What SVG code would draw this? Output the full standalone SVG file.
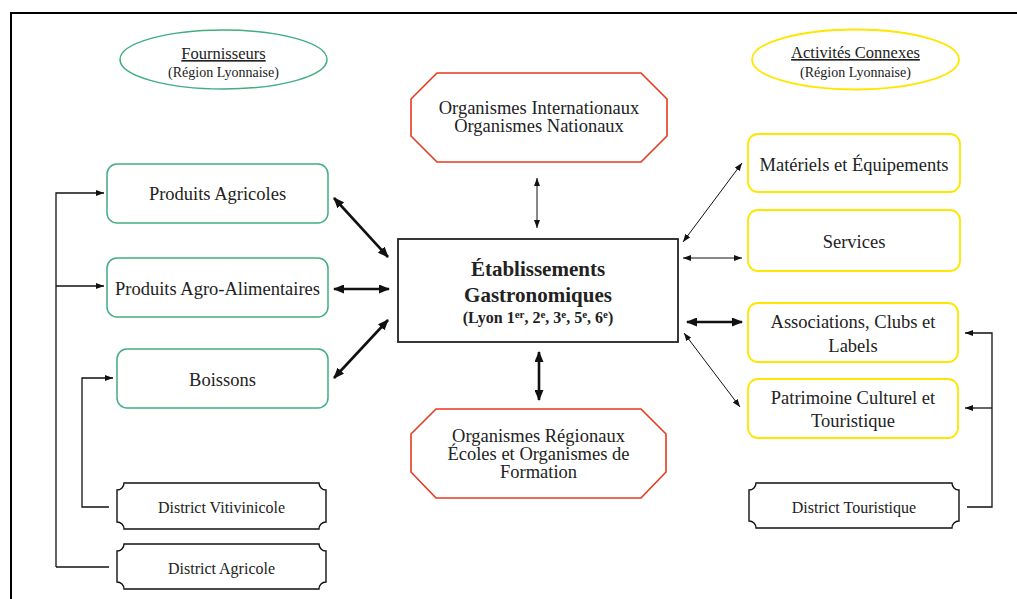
<svg xmlns="http://www.w3.org/2000/svg" width="1017" height="599" viewBox="0 0 1017 599">
<style>
text{font-family:"Liberation Serif","Times New Roman",serif;fill:#222;text-anchor:middle}
.lbl{font-size:18.5px}
.sm{font-size:16px}
.green{fill:#fff;stroke:#41ad80;stroke-width:1.5}
.yellow{fill:#fff;stroke:#ffe600;stroke-width:1.8}
.red{fill:#fff;stroke:#e8381f;stroke-width:1.6}
.plaque{fill:#fff;stroke:#111;stroke-width:1.4}
.thin{stroke:#111;stroke-width:1;fill:none}
.thick{stroke:#111;stroke-width:2.6;fill:none}
.br{stroke:#111;stroke-width:1.3;fill:none}
</style>
<defs>
<marker id="ah" viewBox="0 0 8 6" refX="8" refY="3" markerWidth="8" markerHeight="6" markerUnits="userSpaceOnUse" orient="auto-start-reverse"><path d="M0,0 L8,3 L0,6 z" fill="#111"/></marker>
<marker id="ahb" viewBox="0 0 11 9" refX="10" refY="4.5" markerWidth="11" markerHeight="9" markerUnits="userSpaceOnUse" orient="auto-start-reverse"><path d="M0,0 L11,4.5 L0,9 z" fill="#111"/></marker>
</defs>
<rect width="1017" height="599" fill="#fff"/>
<path d="M11,599 V13 H1017" fill="none" stroke="#000" stroke-width="2"/>

<g id="fournisseurs">
<ellipse cx="223.5" cy="59.5" rx="103.5" ry="29.5" class="green"/>
<text x="223.5" y="59" style="font-size:16.5px" text-decoration="underline">Fournisseurs</text>
<text x="223.5" y="77" style="font-size:14px">(Région Lyonnaise)</text>
</g>
<g id="activites">
<ellipse cx="855.5" cy="59.5" rx="103.5" ry="30" class="yellow"/>
<text x="855.5" y="58" style="font-size:16.5px" text-decoration="underline">Activités Connexes</text>
<text x="855.5" y="77" style="font-size:14px">(Région Lyonnaise)</text>
</g>

<g id="org-inter">
<polygon points="437,73 641,73 667,99 667,136 641,162 437,162 411,136 411,99" class="red"/>
<text x="539" y="114" class="lbl">Organismes Internationaux</text>
<text x="539" y="132" class="lbl">Organismes Nationaux</text>
</g>
<g id="org-reg">
<polygon points="436,409 641,409 666,434 666,472 641,498 436,498 411,472 411,434" class="red"/>
<text x="538.5" y="442" class="lbl">Organismes Régionaux</text>
<text x="538.5" y="460" class="lbl">Écoles et Organismes de</text>
<text x="538.5" y="478" class="lbl">Formation</text>
</g>

<g id="etablissements">
<rect x="398" y="239" width="280" height="103" fill="#fff" stroke="#222" stroke-width="1.8"/>
<text x="538" y="276" style="font-size:21px;font-weight:bold">Établissements</text>
<text x="538" y="302" style="font-size:21px;font-weight:bold">Gastronomiques</text>
<text x="538" y="323" style="font-size:16px;font-weight:bold">(Lyon 1<tspan dy="-5" style="font-size:11px">er</tspan><tspan dy="5">, 2</tspan><tspan dy="-5" style="font-size:11px">e</tspan><tspan dy="5">, 3</tspan><tspan dy="-5" style="font-size:11px">e</tspan><tspan dy="5">, 5</tspan><tspan dy="-5" style="font-size:11px">e</tspan><tspan dy="5">, 6</tspan><tspan dy="-5" style="font-size:11px">e</tspan><tspan dy="5">)</tspan></text>
</g>

<g id="produits-agricoles">
<rect x="107" y="164" width="221" height="59" rx="10" class="green"/>
<text x="217.5" y="200" class="lbl">Produits Agricoles</text>
</g>
<g id="produits-agro">
<rect x="107" y="258" width="221" height="59" rx="10" class="green"/>
<text x="217.5" y="295" class="lbl">Produits Agro-Alimentaires</text>
</g>
<g id="boissons">
<rect x="117" y="349" width="211" height="59" rx="10" class="green"/>
<text x="222.5" y="386" class="lbl">Boissons</text>
</g>
<g id="district-viti">
<path d="M124,483 H319 A7,7 0 0 0 326,490 V522 A7,7 0 0 0 319,529 H124 A7,7 0 0 0 117,522 V490 A7,7 0 0 0 124,483 Z" class="plaque"/>
<text x="221.5" y="513" class="sm">District Vitivinicole</text>
</g>
<g id="district-agri">
<path d="M124,544 H319 A7,7 0 0 0 326,551 V582 A7,7 0 0 0 319,589 H124 A7,7 0 0 0 117,582 V551 A7,7 0 0 0 124,544 Z" class="plaque"/>
<text x="221.5" y="574" class="sm">District Agricole</text>
</g>

<g id="materiels">
<rect x="748" y="134" width="212" height="58" rx="10" class="yellow"/>
<text x="854" y="171" class="lbl">Matériels et Équipements</text>
</g>
<g id="services">
<rect x="748" y="210" width="212" height="61" rx="10" class="yellow"/>
<text x="854" y="248" class="lbl">Services</text>
</g>
<g id="associations">
<rect x="748" y="303" width="210" height="59" rx="10" class="yellow"/>
<text x="853" y="328" class="lbl">Associations, Clubs et</text>
<text x="853" y="352" class="lbl">Labels</text>
</g>
<g id="patrimoine">
<rect x="748" y="379" width="210" height="59" rx="10" class="yellow"/>
<text x="853" y="404" class="lbl">Patrimoine Culturel et</text>
<text x="853" y="427" class="lbl">Touristique</text>
</g>
<g id="district-touri">
<path d="M756,483 H952 A7,7 0 0 0 959,490 V521 A7,7 0 0 0 952,528 H756 A7,7 0 0 0 749,521 V490 A7,7 0 0 0 756,483 Z" class="plaque"/>
<text x="854" y="513" class="sm">District Touristique</text>
</g>

<g id="connectors">
<line x1="537" y1="178" x2="537" y2="228" class="thin" marker-start="url(#ah)" marker-end="url(#ah)"/>
<line x1="539" y1="352" x2="539" y2="400" class="thick" marker-start="url(#ahb)" marker-end="url(#ahb)"/>
<line x1="334" y1="198" x2="388" y2="257" class="thick" marker-start="url(#ahb)" marker-end="url(#ahb)"/>
<line x1="334" y1="289" x2="389" y2="289" class="thick" marker-start="url(#ahb)" marker-end="url(#ahb)"/>
<line x1="334" y1="378" x2="388" y2="320" class="thick" marker-start="url(#ahb)" marker-end="url(#ahb)"/>
<line x1="683" y1="242" x2="742" y2="163" class="thin" marker-start="url(#ah)" marker-end="url(#ah)"/>
<line x1="683" y1="258" x2="742" y2="258" class="thin" marker-start="url(#ah)" marker-end="url(#ah)"/>
<line x1="687" y1="322" x2="742" y2="322" class="thick" marker-start="url(#ahb)" marker-end="url(#ahb)"/>
<line x1="684" y1="333" x2="740" y2="407" class="thin" marker-start="url(#ah)" marker-end="url(#ah)"/>
<path d="M56,567 V193 H104" class="br" marker-end="url(#ah)"/>
<path d="M56,286 H104" class="br" marker-end="url(#ah)"/>
<path d="M56,567 H109" class="br"/>
<path d="M109,507 H82 V378 H113" class="br" marker-end="url(#ah)"/>
<path d="M967,507 H992 V333 H965" class="br" marker-end="url(#ah)"/>
<path d="M992,408 H965" class="br" marker-end="url(#ah)"/>
</g>
</svg>
